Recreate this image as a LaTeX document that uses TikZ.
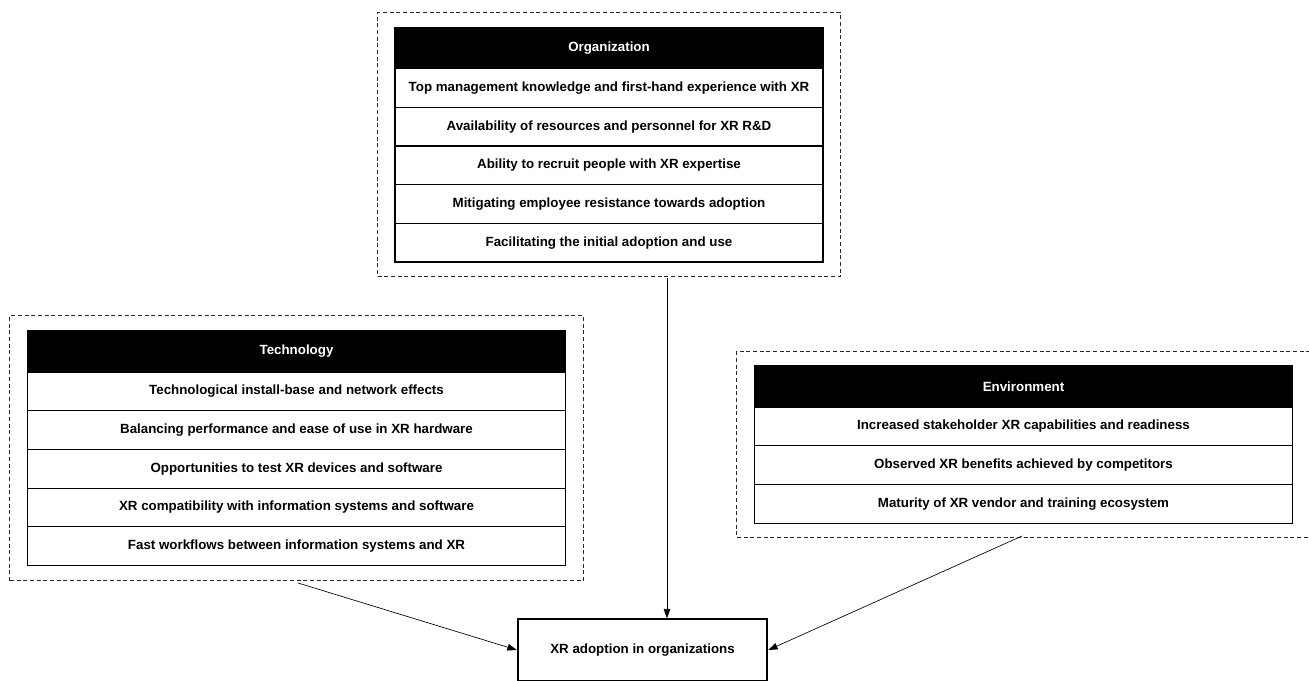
\documentclass[tikz,border=0pt]{standalone}
\usepackage{fontspec}
\setmainfont{Liberation Sans}
\usetikzlibrary{positioning,fit,arrows.meta}

\tikzset{
  header/.style={draw=black, fill=black, text=white, font=\fontsize{10}{12}\selectfont\bfseries,
    minimum height=31pt, inner sep=0pt, outer sep=0pt, line width=0.8pt},
  factor/.style={draw=black, fill=white, font=\fontsize{10}{12}\selectfont\bfseries,
    minimum height=29pt, inner sep=0pt, outer sep=0pt, line width=0.8pt},
  frame/.style={draw=black!85, dash pattern=on 3pt off 2pt, line width=0.6pt,
    inner xsep=13pt, inner ysep=11pt},
  arrow/.style={-{Triangle[length=7pt,width=5pt]}, line width=0.5pt}
}

\begin{document}
\begin{tikzpicture}[x=0.75pt,y=-0.75pt]
        \useasboundingbox (0,0) rectangle (1309,681);

        % Organization table
        \node[header, minimum width=321pt] (org0) at (609,48) {Organization};
        \node[factor, minimum width=321pt, below=0pt of org0] (org1) {Top management knowledge and first-hand experience with XR};
        \node[factor, minimum width=321pt, below=0pt of org1] (org2) {Availability of resources and personnel for XR R\&D};
        \node[factor, minimum width=321pt, below=0pt of org2] (org3) {Ability to recruit people with XR expertise};
        \node[factor, minimum width=321pt, below=0pt of org3] (org4) {Mitigating employee resistance towards adoption};
        \node[factor, minimum width=321pt, below=0pt of org4] (org5) {Facilitating the initial adoption and use};
        \node[frame, fit=(org0)(org5)] (orgframe) {};

        % Technology table
        \node[header, minimum width=404pt] (tech0) at (296.5,351.5) {Technology};
        \node[factor, minimum width=404pt, below=0pt of tech0] (tech1) {Technological install-base and network effects};
        \node[factor, minimum width=404pt, below=0pt of tech1] (tech2) {Balancing performance and ease of use in XR hardware};
        \node[factor, minimum width=404pt, below=0pt of tech2] (tech3) {Opportunities to test XR devices and software};
        \node[factor, minimum width=404pt, below=0pt of tech3] (tech4) {XR compatibility with information systems and software};
        \node[factor, minimum width=404pt, below=0pt of tech4] (tech5) {Fast workflows between information systems and XR};
        \node[frame, fit=(tech0)(tech5), inner ysep=11.5pt] (techframe) {};

        % Environment table
        \node[header, minimum width=404pt] (env0) at (1023.5,386.5) {Environment};
        \node[factor, minimum width=404pt, below=0pt of env0] (env1) {Increased stakeholder XR capabilities and readiness};
        \node[factor, minimum width=404pt, below=0pt of env1] (env2) {Observed XR benefits achieved by competitors};
        \node[factor, minimum width=404pt, below=0pt of env2] (env3) {Maturity of XR vendor and training ecosystem};
        \node[frame, fit=(env0)(env3)] (envframe) {};

        % Outcome
        \node[draw, line width=1.6pt, minimum width=187pt, minimum height=46pt,
          font=\fontsize{10}{12}\selectfont\bfseries] (xr) at (642.5,650) {XR adoption in organizations};

        % Links into the outcome
        \coordinate (orgout) at (667,278);
        \coordinate (techout) at (298,583);
        \coordinate (envout) at (1022,536);
        \draw[arrow] (orgout) -- (orgout |- xr.north);
        \draw[arrow] (techout) -- (xr.west);
        \draw[arrow] (envout) -- (xr.east);
    \end{tikzpicture}
\end{document}
